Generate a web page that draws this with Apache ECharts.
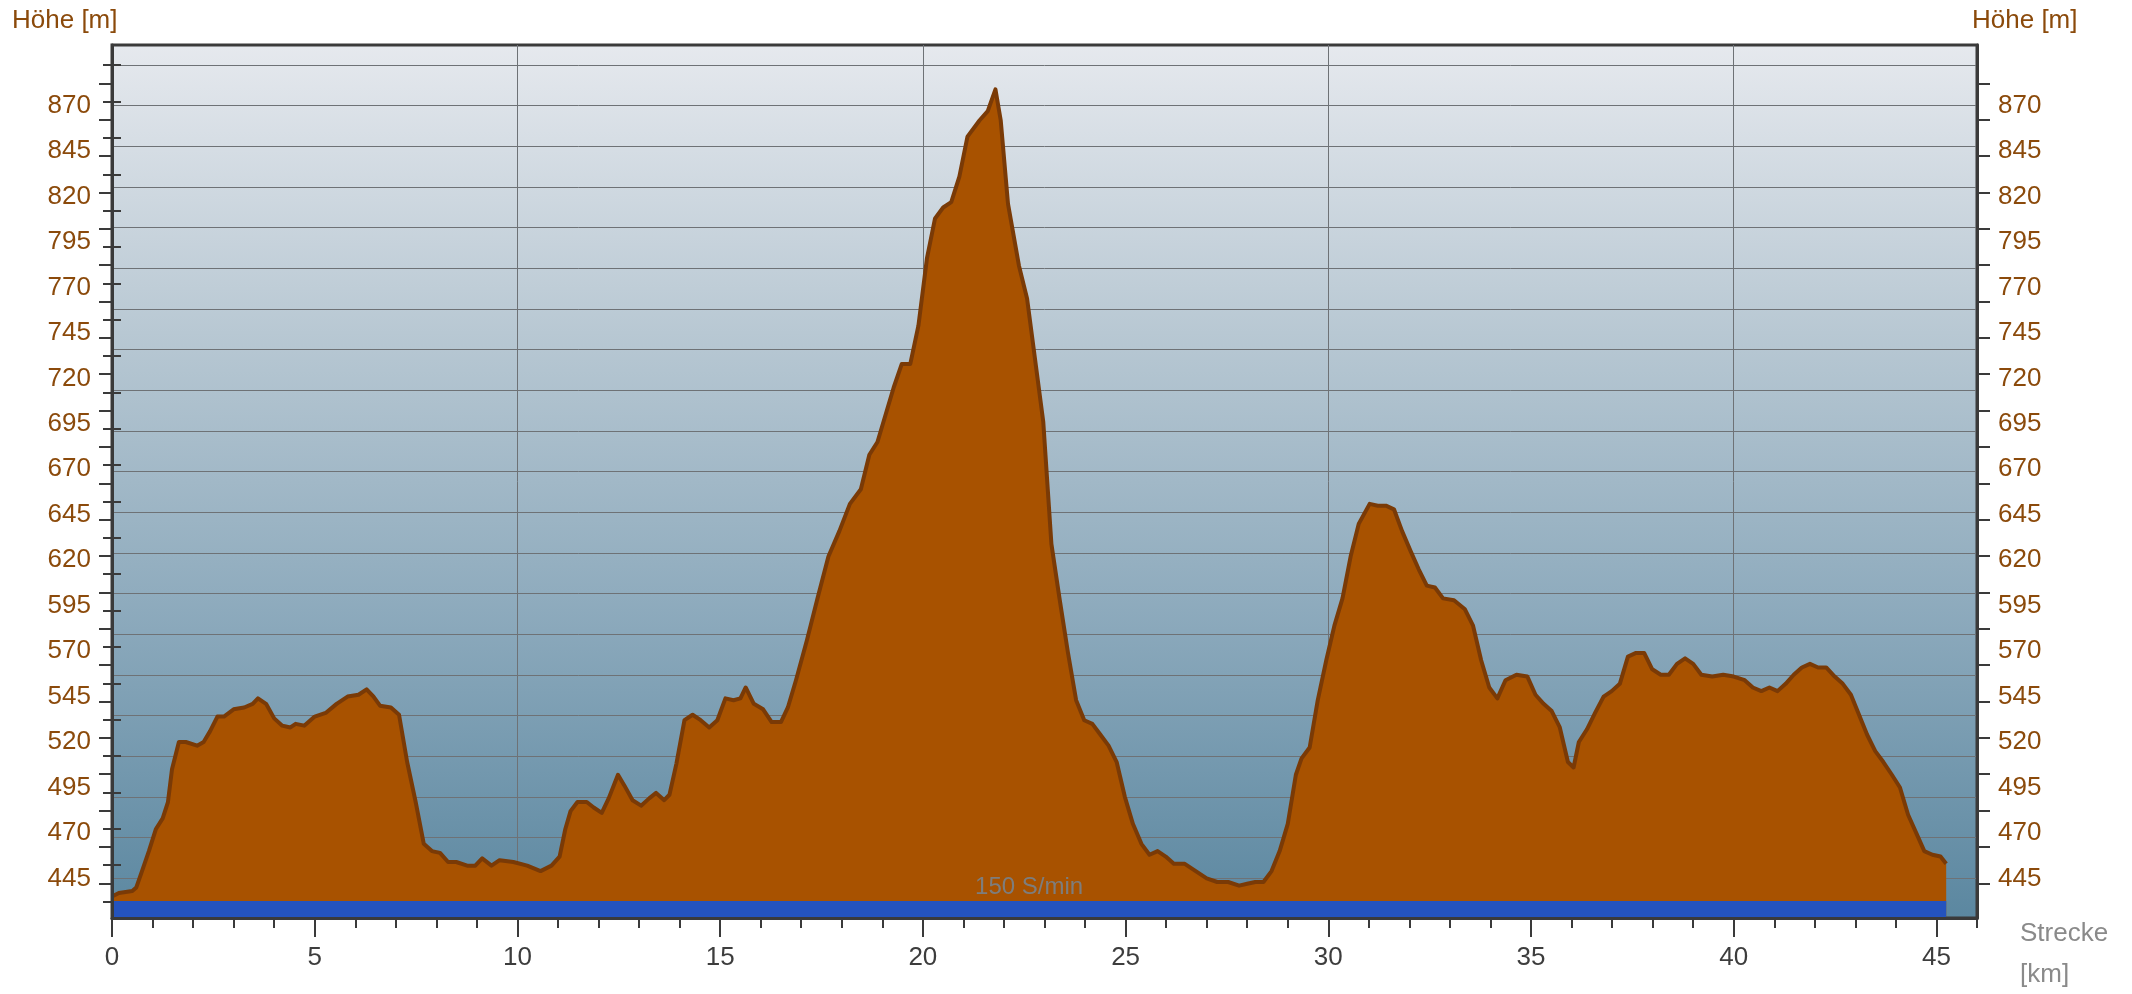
<!DOCTYPE html>
<html>
<head>
<meta charset="utf-8">
<script src="https://cdn.jsdelivr.net/npm/echarts@6/dist/echarts.min.js"></script>
<style>
html,body{margin:0;padding:0;background:#ffffff;}
#chart{width:2132px;height:994px;}
</style>
</head>
<body>
<div id="chart"></div>
<script>
// ---- data ----
const distanceKm = [
  0, 0.17, 0.5, 0.6, 0.74, 0.91, 1.08, 1.25, 1.38, 1.48,
  1.65, 1.82, 2.1, 2.26, 2.42, 2.6, 2.76, 3.0, 3.26, 3.47,
  3.6, 3.8, 4.0, 4.2, 4.4, 4.53, 4.74, 5.0, 5.27, 5.54,
  5.81, 6.08, 6.28, 6.45, 6.61, 6.88, 7.08, 7.28, 7.49, 7.69,
  7.89, 8.09, 8.29, 8.49, 8.76, 8.96, 9.13, 9.36, 9.56, 9.9,
  10.24, 10.57, 10.84, 11.04, 11.18, 11.31, 11.48, 11.71, 11.88, 12.08,
  12.25, 12.48, 12.64, 12.84, 13.05, 13.25, 13.42, 13.62, 13.75, 13.92,
  14.12, 14.32, 14.52, 14.73, 14.93, 15.13, 15.33, 15.5, 15.63, 15.83,
  16.06, 16.27, 16.5, 16.67, 16.87, 17.14, 17.4, 17.67, 17.94, 18.2,
  18.47, 18.68, 18.88, 19.08, 19.28, 19.48, 19.69, 19.89, 20.1, 20.3,
  20.5, 20.7, 20.9, 21.1, 21.4, 21.6, 21.79, 21.92, 22.1, 22.37,
  22.57, 22.77, 22.97, 23.17, 23.37, 23.58, 23.78, 23.98, 24.18, 24.38,
  24.58, 24.78, 24.98, 25.18, 25.39, 25.59, 25.79, 25.99, 26.19, 26.46,
  26.73, 27.0, 27.26, 27.53, 27.8, 28.0, 28.2, 28.4, 28.6, 28.8,
  29.0, 29.2, 29.34, 29.54, 29.74, 29.95, 30.15, 30.35, 30.55, 30.75,
  31.02, 31.22, 31.42, 31.62, 31.82, 32.03, 32.23, 32.43, 32.63, 32.83,
  33.1, 33.37, 33.57, 33.77, 33.97, 34.17, 34.37, 34.64, 34.91, 35.11,
  35.31, 35.51, 35.71, 35.91, 36.05, 36.18, 36.38, 36.58, 36.79, 36.99,
  37.19, 37.39, 37.59, 37.79, 37.99, 38.2, 38.4, 38.6, 38.8, 39.0,
  39.2, 39.47, 39.74, 40.0, 40.27, 40.47, 40.68, 40.88, 41.08, 41.28,
  41.48, 41.68, 41.88, 42.08, 42.28, 42.49, 42.69, 42.89, 43.09, 43.29,
  43.49, 43.69, 43.9, 44.1, 44.3, 44.5, 44.7, 44.9, 45.1, 45.24
];
const elevationM = [
  435, 437, 438, 440, 449, 460, 472, 478, 487, 505,
  520, 520, 518, 520, 526, 534, 534, 538, 539, 541,
  544, 541, 533, 529, 528, 530, 529, 534, 536, 541,
  545, 546, 549, 545, 540, 539, 535, 509, 487, 464,
  460, 459, 454, 454, 452, 452, 456, 452, 455, 454,
  452, 449, 452, 457, 472, 482, 487, 487, 484, 481,
  489, 502, 496, 488, 485, 489, 492, 488, 491, 508,
  532, 535, 532, 528, 532, 544, 543, 544, 550, 541,
  538, 531, 531, 539, 554, 576, 599, 622, 636, 651,
  659, 678, 685, 700, 715, 728, 728, 749, 786, 808,
  814, 817, 831, 853, 862, 867, 879, 862, 816, 782,
  764, 730, 696, 629, 599, 569, 543, 532, 530, 524,
  518, 509, 490, 475, 464, 458, 460, 457, 453, 453,
  449, 445, 443, 443, 441, 442, 443, 443, 449, 460,
  475, 502, 511, 517, 543, 565, 584, 599, 622, 640,
  651, 650, 650, 648, 636, 625, 615, 606, 605, 599,
  598, 593, 584, 565, 550, 544, 554, 557, 556, 546,
  541, 537, 528, 509, 506, 520, 527, 536, 545, 548,
  552, 567, 569, 569, 560, 557, 557, 563, 566, 563,
  557, 556, 557, 556, 554, 550, 548, 550, 548, 552,
  557, 561, 563, 561, 561, 556, 552, 546, 535, 524,
  515, 509, 502, 495, 480, 470, 460, 458, 457, 453
];
const yTickLabels = [445, 470, 495, 520, 545, 570, 595, 620, 645, 670, 695, 720, 745, 770, 795, 820, 845, 870];
const xTickLabels = [0, 5, 10, 15, 20, 25, 30, 35, 40, 45];
const bandStartKm = 0;
const bandEndKm = 45.24;
const bandTopM = 432.5;
const bandText = '150 S/min';
const yTitle = 'Höhe [m]';
const xTitleLines = ['Strecke', '[km]'];

// ---- axis decoration (reference's own tick / grid spacing) ----
const Y_MIN = 423.2, Y_MAX = 903.4, X_MIN = 0, X_MAX = 46;
const longTicks = [], shortTicks = [], gridValues = [], minorX = [];
for (let v = 442.3; v <= 883; v += 20) longTicks.push(+v.toFixed(1));
for (let v = 432.3; v <= 893; v += 20) shortTicks.push(+v.toFixed(1));
for (let k = 0; k <= 20; k++) gridValues.push(445 + 425 / 19 * k);
for (let k = 0; k <= 46; k++) minorX.push(k);

const FONT = '"Liberation Sans", Arial, Helvetica, sans-serif';
const BROWN = '#8b4a0b';
const DARK = '#3a3a3a';

const profile = distanceKm.map((d, i) => [d, elevationM[i]]);

const chart = echarts.init(document.getElementById('chart'), null, {renderer: 'canvas'});

function yAx(pos, opts) {
  return Object.assign({
    type: 'value', position: pos, min: Y_MIN, max: Y_MAX,
    axisLine: {show: false}, axisTick: {show: false}, axisLabel: {show: false},
    splitLine: {show: false}
  }, opts);
}
function xAx(opts) {
  return Object.assign({
    type: 'value', position: 'bottom', min: X_MIN, max: X_MAX,
    axisLine: {show: false}, axisTick: {show: false}, axisLabel: {show: false},
    splitLine: {show: false}
  }, opts);
}

const option = {
  animation: false,
  backgroundColor: '#ffffff',
  textStyle: {fontFamily: FONT},
  grid: {
    left: 112, top: 45, width: 1865, height: 873,
    show: true,
    borderColor: DARK, borderWidth: 3,
    backgroundColor: {
      type: 'linear', x: 0, y: 0, x2: 0, y2: 1,
      colorStops: [
        {offset: 0, color: '#e6e9ee'},
        {offset: 0.33, color: '#b8c8d3'},
        {offset: 0.67, color: '#8aa8bb'},
        {offset: 1, color: '#5b87a0'}
      ]
    }
  },
  xAxis: [
    xAx({
      z: 10,
      axisLine: {show: true, onZero: false, lineStyle: {color: DARK, width: 3}},
      axisTick: {show: true, customValues: xTickLabels, length: 19, lineStyle: {color: DARK, width: 2}},
      axisLabel: {show: true, customValues: xTickLabels, margin: 27, color: '#3d3d3d', fontSize: 26, fontFamily: FONT}
    }),
    xAx({
      axisTick: {show: true, customValues: minorX, length: 10, lineStyle: {color: DARK, width: 2}}
    }),
    xAx({
      interval: 10,
      splitLine: {show: true, lineStyle: {color: '#6e7276', width: 1}}
    })
  ],
  yAxis: [
    yAx('left', {
      z: 10,
      axisLine: {show: true, onZero: false, lineStyle: {color: DARK, width: 3}},
      axisTick: {show: true, customValues: longTicks, length: 13, lineStyle: {color: DARK, width: 2}},
      axisLabel: {show: true, customValues: yTickLabels, margin: 21, color: BROWN, fontSize: 26, fontFamily: FONT}
    }),
    yAx('left', {
      axisTick: {show: true, customValues: shortTicks, length: 9, lineStyle: {color: DARK, width: 2}}
    }),
    yAx('right', {
      z: 10,
      axisLine: {show: true, onZero: false, lineStyle: {color: DARK, width: 3}},
      axisTick: {show: true, customValues: longTicks, length: 13, lineStyle: {color: DARK, width: 2}},
      axisLabel: {show: true, customValues: yTickLabels, margin: 21, color: BROWN, fontSize: 26, fontFamily: FONT}
    }),
    yAx('right', {
      axisTick: {show: true, customValues: shortTicks, length: 9, lineStyle: {color: DARK, width: 2}}
    }),
    yAx('left', {
      axisTick: {show: false, customValues: gridValues},
      splitLine: {show: true, lineStyle: {color: '#6e7276', width: 1}}
    })
  ],
  series: [
    {
      name: 'Höhe',
      type: 'line',
      xAxisIndex: 0, yAxisIndex: 0,
      data: profile,
      symbol: 'none',
      smooth: false,
      z: 3,
      lineStyle: {color: '#7a3a06', width: 4, join: 'round'},
      areaStyle: {color: '#a85200', opacity: 1, origin: 'start'}
    },
    {
      name: 'Band',
      type: 'line',
      xAxisIndex: 0, yAxisIndex: 0,
      data: [[bandStartKm, bandTopM], [bandEndKm, bandTopM]],
      symbol: 'none',
      z: 4,
      lineStyle: {width: 0, opacity: 0},
      areaStyle: {color: '#2453be', opacity: 1, origin: 'start'},
      markPoint: {
        symbol: 'rect', symbolSize: [1, 1],
        itemStyle: {color: 'rgba(0,0,0,0)'},
        label: {show: true, position: 'top', distance: 1, formatter: bandText,
                color: '#7d7d7d', fontSize: 24, fontFamily: FONT},
        data: [{coord: [(bandStartKm + bandEndKm) / 2, bandTopM]}]
      }
    }
  ],
  graphic: [
    {type: 'text', x: 12, y: 21, style: {text: yTitle, fill: BROWN, font: '26px ' + FONT, align: 'left', verticalAlign: 'middle'}},
    {type: 'text', x: 1972, y: 21, style: {text: yTitle, fill: BROWN, font: '26px ' + FONT, align: 'left', verticalAlign: 'middle'}},
    {type: 'text', x: 2020, y: 934, style: {text: xTitleLines[0], fill: '#8a8a8a', font: '26px ' + FONT, align: 'left', verticalAlign: 'middle'}},
    {type: 'text', x: 2020, y: 975, style: {text: xTitleLines[1], fill: '#8a8a8a', font: '26px ' + FONT, align: 'left', verticalAlign: 'middle'}}
  ]
};
chart.setOption(option);
</script>
</body>
</html>
